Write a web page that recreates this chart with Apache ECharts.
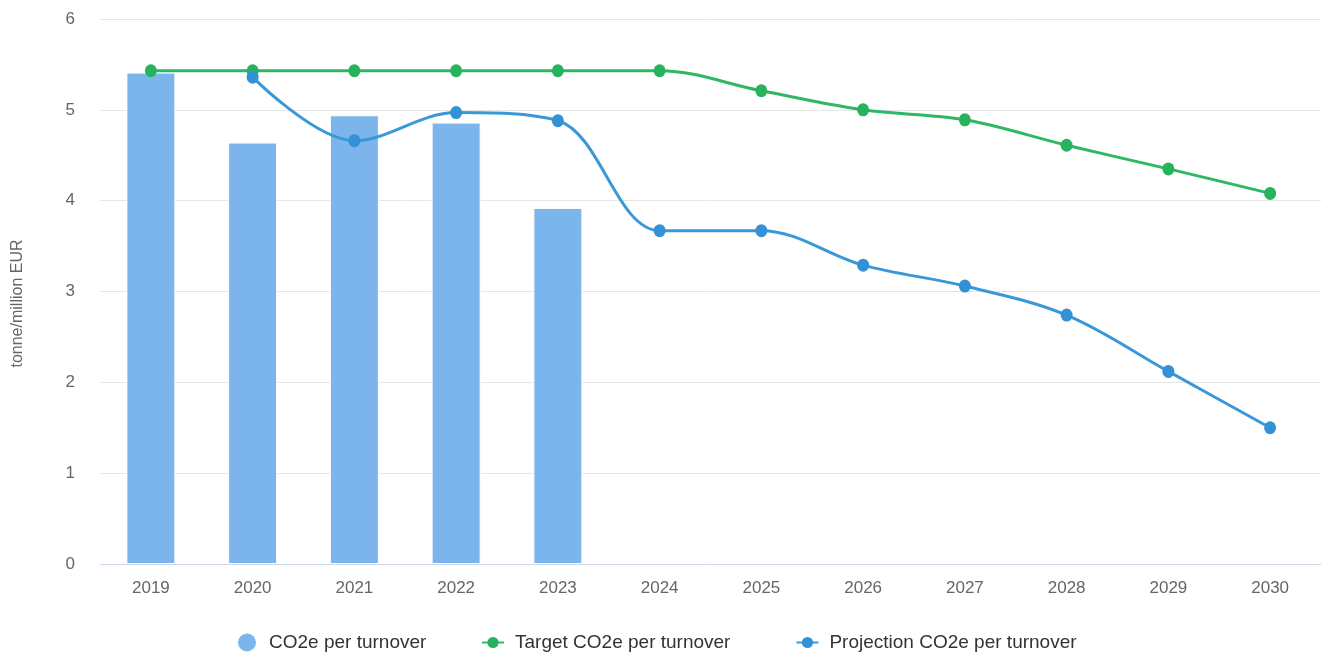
<!DOCTYPE html>
<html>
<head>
<meta charset="utf-8">
<title>CO2e per turnover</title>
<script src="https://cdn.jsdelivr.net/npm/echarts@6/dist/echarts.min.js"></script>
<style>
  html, body { margin: 0; padding: 0; background: #fff; }
  #chart { width: 1322px; height: 655px; }
</style>
</head>
<body>
<div id="chart"></div>
<script>
// Years on the category axis
const years = ['2019', '2020', '2021', '2022', '2023', '2024', '2025', '2026', '2027', '2028', '2029', '2030'];

// Reported intensity (tonne CO2e per million EUR turnover)
const actual = [5.41, 4.64, 4.94, 4.86, 3.92, null, null, null, null, null, null, null];

// Reduction target path
const target = [5.43, 5.43, 5.43, 5.43, 5.43, 5.43, 5.21, 5.00, 4.89, 4.61, 4.35, 4.08];

// Projected path
const projection = [null, 5.36, 4.66, 4.97, 4.88, 3.67, 3.67, 3.29, 3.06, 2.74, 2.12, 1.50];

const seriesNames = ['CO2e per turnover', 'Target CO2e per turnover', 'Projection CO2e per turnover'];
const yTitle = 'tonne/million EUR';

const FONT = '"Liberation Sans", Arial, sans-serif';
const TEXT = '#666666';
const legendText = { fontSize: 19, color: '#333333', fontFamily: FONT, padding: [0, 0, 0, 6] };

const chart = echarts.init(document.getElementById('chart'), null, { renderer: 'canvas' });

chart.setOption({
  animation: false,
  backgroundColor: '#ffffff',
  textStyle: { fontFamily: FONT },
  grid: { left: 100, right: 1, top: 19, bottom: 91, containLabel: false },
  // Bar entry uses a larger round swatch; line entries use line + marker icons
  legend: [
    {
      top: 628,
      left: 233,
      itemWidth: 20,
      itemHeight: 18,
      textStyle: Object.assign({}, legendText, { padding: [0, 0, 0, 7] }),
      data: [{ name: seriesNames[0], icon: 'circle', itemStyle: { borderWidth: 0 } }]
    },
    {
      top: 628,
      left: 476,
      itemGap: 65,
      itemWidth: 22,
      itemHeight: 14,
      textStyle: legendText,
      data: [{ name: seriesNames[1] }, { name: seriesNames[2] }]
    }
  ],
  xAxis: {
    type: 'category',
    data: years,
    boundaryGap: true,
    axisLine: { lineStyle: { color: '#ccd6eb', width: 1 } },
    axisTick: { show: false },
    axisLabel: { color: TEXT, fontSize: 17, margin: 16, fontFamily: FONT },
    splitLine: { show: false }
  },
  yAxis: {
    type: 'value',
    min: 0,
    max: 6,
    interval: 1,
    name: yTitle,
    nameLocation: 'middle',
    nameGap: 74,
    nameRotate: 90,
    nameTextStyle: { color: TEXT, fontSize: 16, fontFamily: FONT, padding: [0, 24, 0, 0] },
    axisLine: { show: false },
    axisTick: { show: false },
    axisLabel: { color: TEXT, fontSize: 17, margin: 25, fontFamily: FONT },
    splitLine: { lineStyle: { color: '#e6e6e6', width: 1 } }
  },
  series: [
    {
      name: seriesNames[0],
      type: 'bar',
      data: actual,
      barWidth: 49,
      itemStyle: { color: '#7cb5ec', borderColor: '#ffffff', borderWidth: 1 },
      z: 1
    },
    {
      name: seriesNames[1],
      type: 'line',
      data: target,
      smooth: 0.35,
      symbol: 'circle',
      symbolSize: [12, 13],
      lineStyle: { color: '#2eb865', width: 3 },
      itemStyle: { color: '#27b25e' },
      z: 2
    },
    {
      name: seriesNames[2],
      type: 'line',
      data: projection,
      smooth: 0.35,
      symbol: 'circle',
      symbolSize: [12, 13],
      lineStyle: { color: '#3a98d8', width: 3 },
      itemStyle: { color: '#3591d6' },
      z: 3
    }
  ]
});
</script>
</body>
</html>
